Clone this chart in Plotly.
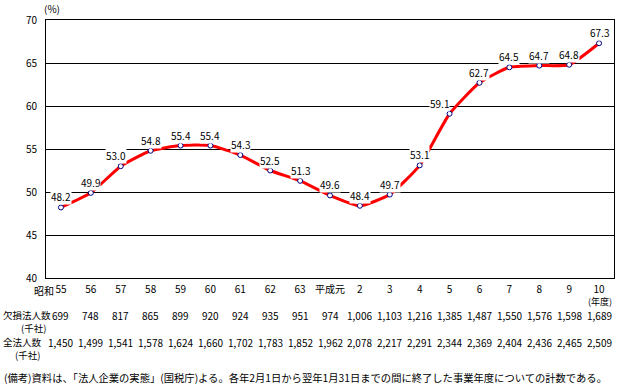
import plotly.graph_objects as go

# ---- data ----
year_labels = ["55", "56", "57", "58", "59", "60", "61", "62", "63", "平成元",
               "2", "3", "4", "5", "6", "7", "8", "9", "10"]
loss_ratio = [48.2, 49.9, 53.0, 54.8, 55.4, 55.4, 54.3, 52.5, 51.3, 49.6,
              48.4, 49.7, 53.1, 59.1, 62.7, 64.5, 64.7, 64.8, 67.3]
loss_corps = [699, 748, 817, 865, 899, 920, 924, 935, 951, 974,
              1006, 1103, 1216, 1385, 1487, 1550, 1576, 1598, 1689]
all_corps = [1450, 1499, 1541, 1578, 1624, 1660, 1702, 1783, 1852, 1962,
             2078, 2217, 2291, 2344, 2369, 2404, 2436, 2465, 2509]
y_ticks = [40, 45, 50, 55, 60, 65, 70]

FONT = "Noto Sans CJK JP"
idx = list(range(len(year_labels)))

fig = go.Figure()
fig.add_trace(go.Scatter(
    x=idx, y=loss_ratio, mode="lines+markers",
    line=dict(color="#ff0000", width=3, shape="spline", smoothing=0.5),
    marker=dict(symbol="circle", size=5, color="white",
                line=dict(color="#000080", width=1)),
    hoverinfo="skip", showlegend=False,
))

ann = []
# data labels (white background, break gridlines)
label_dx = {2: -5, 13: -10}
for i, v in enumerate(loss_ratio):
    ann.append(dict(x=i, y=v, xref="x", yref="y", text=f"{v:.1f}",
                    showarrow=False, yanchor="bottom", yshift=2,
                    xshift=label_dx.get(i, 0),
                    bgcolor="white", borderpad=0,
                    font=dict(family=FONT, size=10, color="black")))

def py(pix):
    # pixel row -> paper y (plot area from 20 to 278 px)
    return (278 - pix) / 258

def px(pix):
    return (pix - 46) / 568

# table rows
for i in idx:
    ann.append(dict(x=i, y=py(315), xref="x", yref="paper", text=f"{loss_corps[i]:,}",
                    showarrow=False, xanchor="center", yanchor="middle",
                    font=dict(family=FONT, size=10, color="black")))
    ann.append(dict(x=i, y=py(342), xref="x", yref="paper", text=f"{all_corps[i]:,}",
                    showarrow=False, xanchor="center", yanchor="middle",
                    font=dict(family=FONT, size=10, color="black")))

texts = [
    ("欠損法人数", px(1), py(315), "left", 9.5),
    ("(千社)", px(19), py(328), "left", 9.5),
    ("全法人数", px(1), py(342), "left", 9.5),
    ("(千社)", px(13), py(355), "left", 9.5),
    ("(備考)資料は、「法人企業の実態」(国税庁)よる。各年2月1日から翌年1月31日までの間に終了した事業年度についての計数である。",
     px(2), py(377), "left", 10.3),
    ("(%)", px(42), py(9), "left", 10),
    ("(年度)", px(614), py(301), "right", 9),
]
for t, x, y, xa, fs in texts:
    ann.append(dict(x=x, y=y, xref="paper", yref="paper", text=t, showarrow=False,
                    xanchor=xa, yanchor="middle",
                    font=dict(family=FONT, size=fs, color="black")))

# era prefix before first tick label
ann.append(dict(x=0, y=py(290), xref="x", yref="paper", text="昭和", showarrow=False,
                xanchor="right", yanchor="middle", xshift=-5,
                font=dict(family=FONT, size=10, color="black")))

fig.update_layout(
    width=617, height=385,
    margin=dict(l=46, r=3, t=20, b=107),
    paper_bgcolor="white", plot_bgcolor="white",
    font=dict(family=FONT, size=10, color="black"),
    annotations=ann,
    xaxis=dict(range=[-0.5, len(year_labels) - 0.5], tickmode="array",
               tickvals=idx, ticktext=year_labels, showgrid=False,
               showline=True, linecolor="black", linewidth=1, mirror=True,
               ticks="", zeroline=False, ticklabelstandoff=2,
               tickfont=dict(family=FONT, size=10, color="black")),
    yaxis=dict(range=[40, 70], tickmode="array", tickvals=y_ticks,
               showgrid=True, gridcolor="black", gridwidth=1,
               showline=True, linecolor="black", linewidth=1, mirror=True,
               ticks="", zeroline=False, ticklabelstandoff=6,
               tickfont=dict(family=FONT, size=10, color="black")),
)

fig.write_html("out.html", config={"displayModeBar": False},
               post_script="document.body.style.margin='0px';document.body.style.overflow='hidden';")
